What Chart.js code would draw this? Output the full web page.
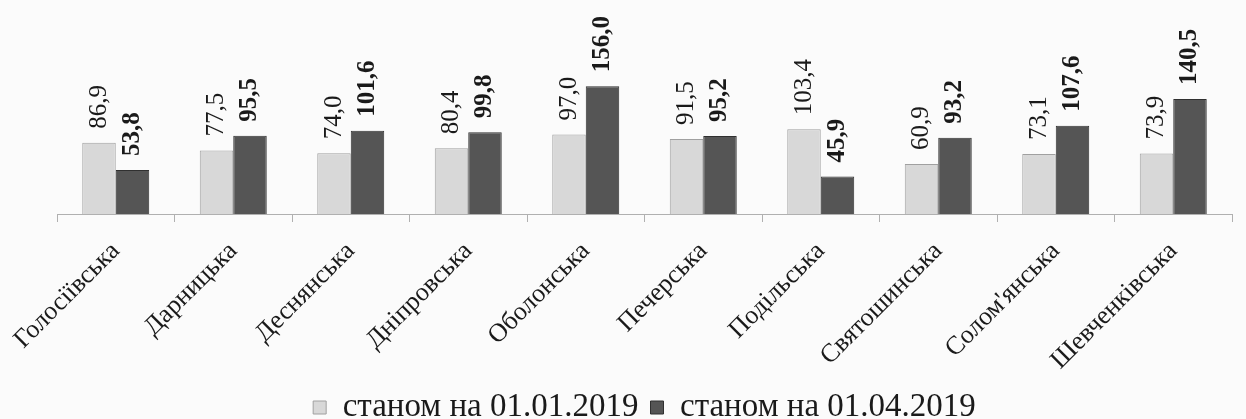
<!DOCTYPE html>
<html>
<head>
<meta charset="utf-8">
<script src="https://cdn.jsdelivr.net/npm/chart.js@4"></script>
<style>
  html, body { margin: 0; padding: 0; background: #fbfbfb; }
  #wrap { width: 1246px; height: 419px; }
</style>
</head>
<body>
<div id="wrap"><canvas id="districtChart" width="1246" height="419"></canvas></div>
<script>
// райони Києва
const districts = ['Голосіївська', 'Дарницька', 'Деснянська', 'Дніпровська', 'Оболонська',
  'Печерська', 'Подільська', 'Святошинська', 'Солом\'янська', 'Шевченківська'];
const jan2019 = [86.9, 77.5, 74.0, 80.4, 97.0, 91.5, 103.4, 60.9, 73.1, 73.9];
const apr2019 = [53.8, 95.5, 101.6, 99.8, 156.0, 95.2, 45.9, 93.2, 107.6, 140.5];
const seriesNames = ['станом на 01.01.2019', 'станом на 01.04.2019'];

const serif = "'Liberation Serif', 'DejaVu Serif', serif";

// підписи значень, повернуті вертикально
const valueLabels = {
  id: 'valueLabels',
  afterDatasetsDraw(chart) {
    const ctx = chart.ctx;
    chart.data.datasets.forEach((ds, i) => {
      const meta = chart.getDatasetMeta(i);
      meta.data.forEach((bar, j) => {
        const txt = ds.data[j].toFixed(1).replace('.', ',');
        ctx.save();
        ctx.translate(bar.x, bar.y - 14);
        ctx.rotate(-Math.PI / 2);
        ctx.font = (i === 1 ? 'bold ' : '') + '25px ' + serif;
        ctx.fillStyle = '#1a1a1a';
        ctx.textAlign = 'left';
        ctx.textBaseline = 'middle';
        ctx.fillText(txt, 0, 0);
        ctx.restore();
      });
    });
  }
};

function drawChart() {
  const ctx = document.getElementById('districtChart').getContext('2d');
  new Chart(ctx, {
    type: 'bar',
    data: {
      labels: districts,
      datasets: [{
        label: seriesNames[0],
        data: jan2019,
        backgroundColor: '#d8d8d8',
        borderColor: '#a0a0a0',
        borderWidth: 1
      }, {
        label: seriesNames[1],
        data: apr2019,
        backgroundColor: '#555555',
        borderColor: '#303030',
        borderWidth: 1
      }]
    },
    options: {
      responsive: false,
      animation: false,
      categoryPercentage: 0.57,
      barPercentage: 1.0,
      layout: { padding: { left: 57, right: 14, top: 10, bottom: -15 } },
      plugins: {
        legend: {
          position: 'bottom',
          labels: {
            font: { family: serif, size: 33 },
            color: '#1a1a1a',
            boxWidth: 13,
            boxHeight: 13,
            padding: 12
          }
        },
        tooltip: { enabled: false }
      },
      scales: {
        x: {
          afterFit(scale) {
            scale.paddingLeft = 0;
            scale.paddingRight = 0;
            scale.height = 165;
          },
          grid: {
            drawOnChartArea: false,
            color: '#b0b0b0',
            tickLength: 8
          },
          border: { color: '#b0b0b0' },
          ticks: {
            font: { family: serif, size: 26 },
            color: '#1a1a1a',
            minRotation: 45,
            maxRotation: 45,
            padding: 14
          }
        },
        y: {
          display: false,
          min: 0,
          max: 249
        }
      }
    },
    plugins: [valueLabels]
  });
}

// чекаємо на шрифти, щоб розмітка не "стрибала"
Promise.all([
  document.fonts.load("26px 'Liberation Serif'"),
  document.fonts.load("bold 25px 'Liberation Serif'")
]).then(drawChart, drawChart);
</script>
</body>
</html>
